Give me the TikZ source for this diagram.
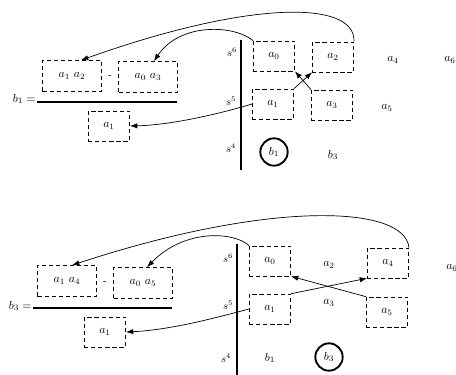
\documentclass[tikz,border=0pt]{standalone}
\usepackage{amsmath,amssymb}
\usepackage{tikz}
\usetikzlibrary{arrows.meta}
\tikzset{
  dbox/.style  ={draw, dash pattern=on 3.5pt off 2.5pt, minimum width=1.24cm,
                 minimum height=0.9cm, inner sep=0pt, line width=0.5pt},
  wbox/.style  ={dbox, minimum width=1.77cm, minimum height=0.93cm},
  cur/.style   ={draw, circle, minimum size=0.82cm, inner sep=0pt,
                 line width=1.6pt},
  lnk/.style   ={-{Latex[length=2.2mm, width=1.6mm]}, line width=0.6pt},
  wall/.style  ={line width=0.9pt},
  fbar/.style  ={line width=1pt},
  slbl/.style  ={font=\small},
}
\begin{document}
\begin{tikzpicture}[x=0.03cm, y=-0.03cm]
\useasboundingbox (0,0) rectangle (456,375);
% upper panel
\node[dbox] (ta0) at (274,56)  {$a_0$};
\node[dbox] (ta2) at (333,57)  {$a_2$};
\node[dbox] (ta1) at (273,104) {$a_1$};
\node[dbox] (ta3) at (332,105) {$a_3$};
\node (ta4) at (393,60)  {$a_4$};
\node (ta6) at (450,60)  {$a_6$};
\node (ta5) at (387,108) {$a_5$};
\node[cur] (tb1) at (274,152) {$b_1$};
\node (tb3) at (333,155) {$b_3$};
\coordinate (tw1) at (241,40);
\coordinate (tw2) at (241,170);
\draw[wall] (tw1) -- (tw2);
\node[slbl] (ts6) at (232,52)  {$s^6$};
\node[slbl] (ts5) at (231,101) {$s^5$};
\node[slbl] (ts4) at (231,148) {$s^4$};
\node[wbox] (tl1) at (72,76)   {$a_1\ a_2$};
\node (tmn) at (110,77) {-};
\node[wbox] (tl2) at (148,77)  {$a_0\ a_3$};
\coordinate (tf1) at (37,102);
\coordinate (tf2) at (177,102);
\draw[fbar] (tf1) -- (tf2);
\node[anchor=east, inner sep=1pt] (teq) at (37,99) {$b_1 =$};
\node[dbox] (tl3) at (109,126) {$a_1$};
\draw[lnk] (ta1.north east) -- (ta2.south west);
\draw[lnk] (ta3.north west) -- (ta0.south east);
\draw[lnk] (ta2.north east) .. controls (356,0) and (250,0) .. ([xshift=0.27cm]tl1.north);
\draw[lnk] (ta0.north west) .. controls (235,25) and (180,22) .. ([xshift=0.18cm]tl2.north);
\draw[lnk] (ta1.west) .. controls (215,115) and (170,125) .. (tl3.east);
% lower panel
\node[dbox] (ba0) at (270,261) {$a_0$};
\node[dbox] (ba1) at (270,309) {$a_1$};
\node[dbox] (ba4) at (388,263) {$a_4$};
\node[dbox] (ba5) at (387,312) {$a_5$};
\node (ba2) at (329,265) {$a_2$};
\node (ba3) at (329,303) {$a_3$};
\node (ba6) at (452,268) {$a_6$};
\node (bb1) at (270,358) {$b_1$};
\node[cur] (bb3) at (329,357) {$b_3$};
\coordinate (bw1) at (237,244);
\coordinate (bw2) at (237,375);
\draw[wall] (bw1) -- (bw2);
\node[slbl] (bs6) at (228,258) {$s^6$};
\node[slbl] (bs5) at (228,305) {$s^5$};
\node[slbl] (bs4) at (226,358) {$s^4$};
\node[wbox] (bl1) at (67,281)  {$a_1\ a_4$};
\node (bmn) at (105,283) {-};
\node[wbox] (bl2) at (143,283) {$a_0\ a_5$};
\coordinate (bf1) at (33,308);
\coordinate (bf2) at (172,308);
\draw[fbar] (bf1) -- (bf2);
\node[anchor=east, inner sep=1pt] (beq) at (33,306) {$b_3 =$};
\node[dbox] (bl3) at (105,332) {$a_1$};
\draw[lnk] (ba1.north east) -- (ba4.south west);
\draw[lnk] (ba5.north west) -- (ba0.south east);
\draw[lnk] (ba4.north east) .. controls (405,205) and (270,200) .. ([xshift=0.15cm]bl1.north);
\draw[lnk] (ba0.north west) .. controls (235,232) and (185,228) .. ([xshift=0.12cm]bl2.north);
\draw[lnk] (ba1.west) .. controls (215,318) and (170,330) .. (bl3.east);
\end{tikzpicture}
\end{document}
